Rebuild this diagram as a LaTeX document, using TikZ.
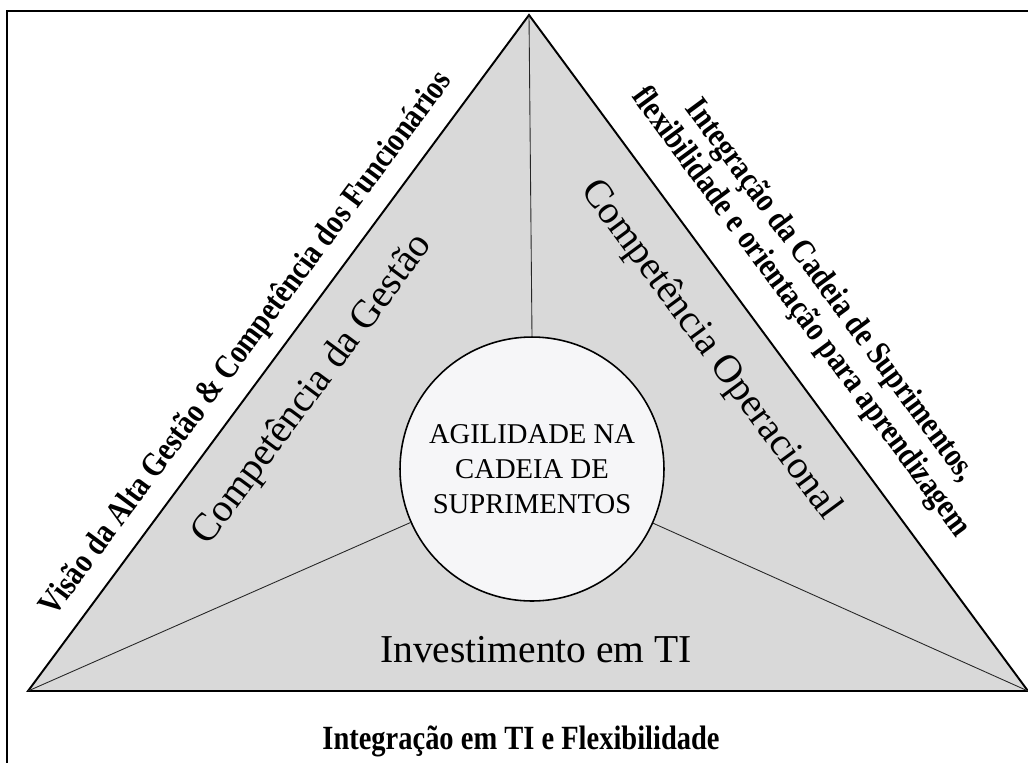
\documentclass[tikz,border=0pt]{standalone}
\usepackage{fontspec}
\setmainfont{Liberation Serif}
\newfontfamily\narrowserif[FakeStretch=0.84]{Liberation Serif}

\definecolor{panelgray}{RGB}{217,217,217}
\definecolor{hubwhite}{RGB}{246,246,248}

\begin{document}
\begin{tikzpicture}[every node/.style={align=center,inner sep=0pt},x=0.02cm,y=-0.02cm]
  \tikzset{
    side label/.style={font=\fontsize{22.5}{27}\selectfont},
    outer label/.style={font=\narrowserif\bfseries\fontsize{19.3}{20.5}\selectfont},
    spoke/.style={draw=black!85,line width=0.5pt} % thin lines to the hub
  }

  \clip (0,0) rectangle (1028,762);
  \draw[line width=1pt] (7,11) rectangle (1060,800); % frame

  \coordinate (apex) at (529,15);
  \coordinate (lv) at (28,691);
  \coordinate (rv) at (1028,691);

  \filldraw[fill=panelgray,line width=1.1pt] (apex) -- (lv) -- (rv) -- cycle;

  \node[circle,draw,line width=0.9pt,fill=hubwhite,minimum size=5.28cm,
        font=\fontsize{16.3}{19.8}\selectfont] (hub) at (532,469)
        {AGILIDADE NA\\CADEIA DE\\SUPRIMENTOS};

  \draw[spoke] (apex) -- (hub.north);
  \draw[spoke] (lv) -- (hub);
  \draw[spoke] (rv) -- (hub);

  \node[side label,rotate=53.45] (mgmt) at (313,390) {Competência da Gestão};
  \node[side label,rotate=-53.57] (ops) at (710,350) {Competência Operacional};
  \node[side label,anchor=base] (invest) at (536,662) {Investimento em TI};

  \node[outer label,rotate=53.45] (vision) at (247,344)
    {Visão da Alta Gestão \& Competência dos Funcionários};
  \node[outer label,rotate=-53.57] (chain) at (815,302)
    {Integração da Cadeia de Suprimentos,\\flexibilidade e orientação para aprendizagem};
  \node[outer label,anchor=base] (flex) at (521,749) {Integração em TI e Flexibilidade};
\end{tikzpicture}
\end{document}
